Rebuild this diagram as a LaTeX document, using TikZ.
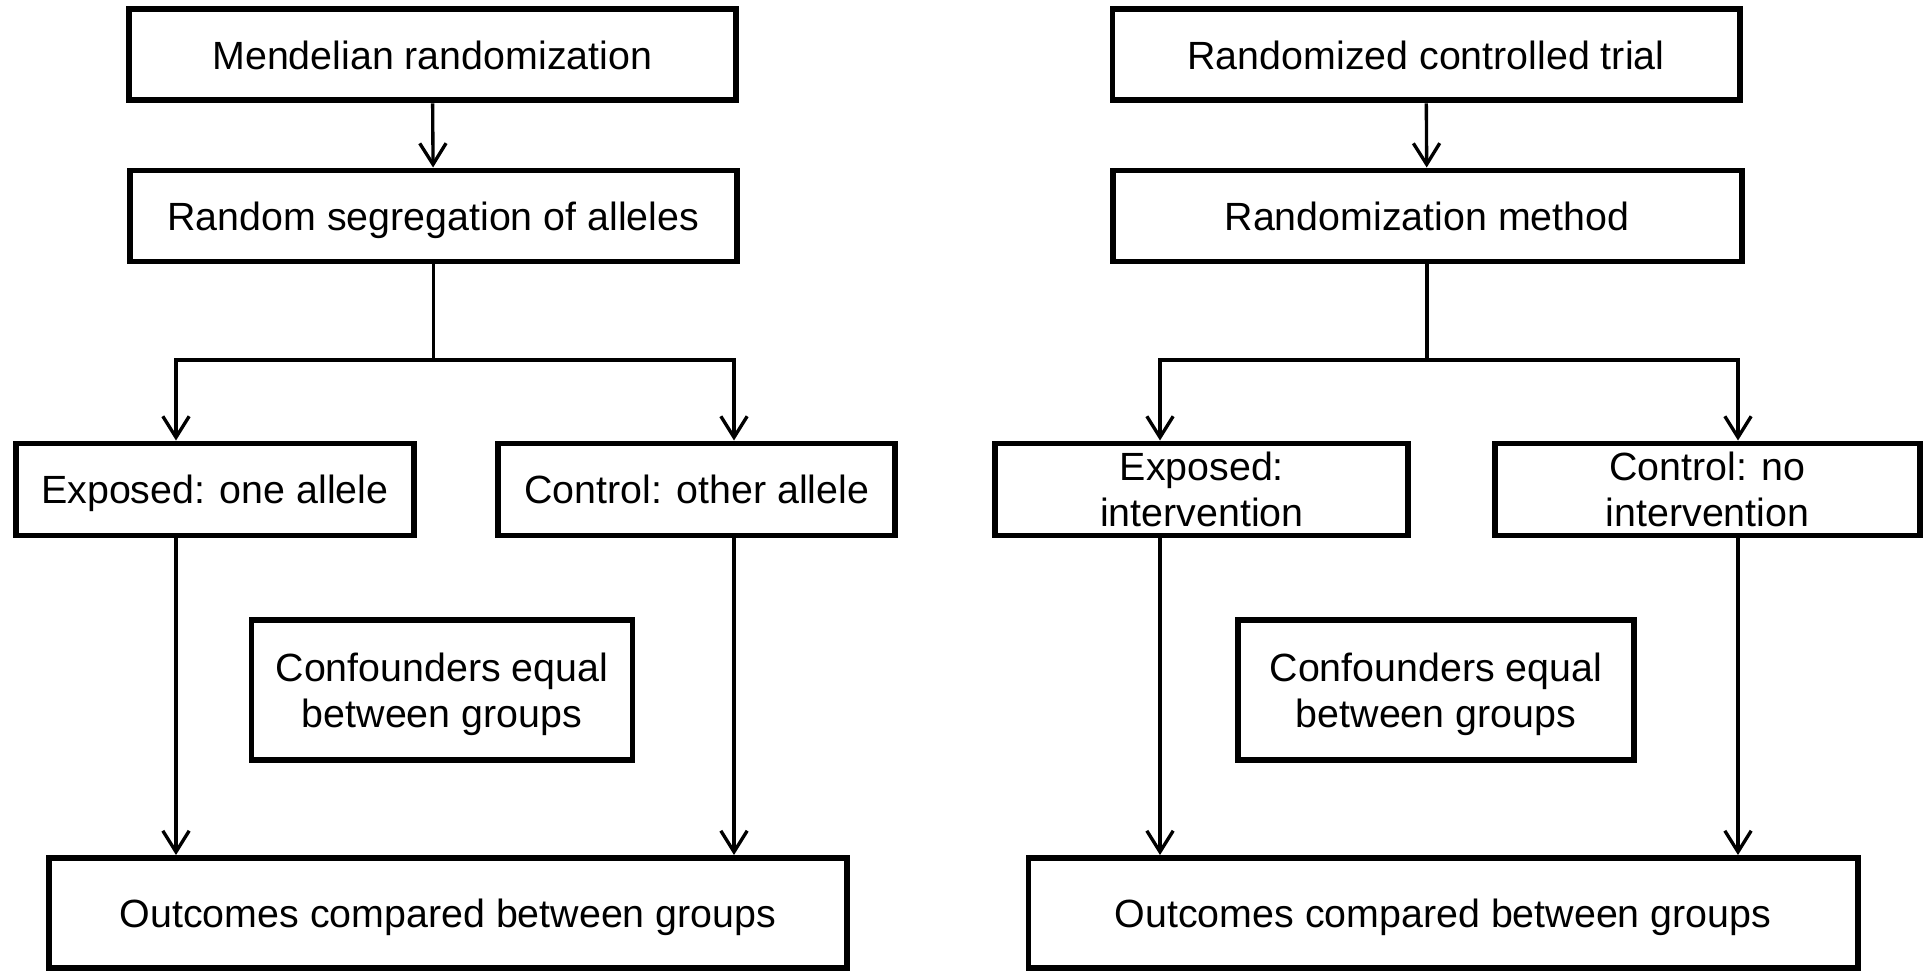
\documentclass[tikz,border=0pt]{standalone}
\usepackage{fontspec}
\setmainfont{Liberation Sans}
\usepackage{tikz}
\usetikzlibrary{arrows.meta}
\tikzstyle{b}=[rectangle,draw=black,line width=1.7pt,inner sep=0pt,align=center,text depth=0pt,font=\fontsize{11.2pt}{13.2pt}\selectfont]
\tikzstyle{b top}=[b,minimum height=0.91cm]
\tikzstyle{b arm}=[b,minimum height=0.92cm]
\tikzstyle{b conf}=[b,minimum height=1.40cm]
\tikzstyle{b out}=[b,minimum height=1.10cm]
\tikzstyle{e}=[line width=0.95pt,arrows={-Straight Barb[length=6pt,width=7.5pt]}]

\begin{document}
\begin{tikzpicture}[x=1cm,y=-1cm]
    \useasboundingbox (0,0) rectangle (19.25,9.71);

    % left: Mendelian randomization
    \node[b top,minimum width=6.07cm]  (mr)    at (4.323,0.55)  {Mendelian randomization};
    \node[b top,minimum width=6.07cm]  (rsa)   at (4.334,2.16)  {Random segregation of alleles};
    \node[b arm,minimum width=3.98cm]  (expA)  at (2.148,4.895) {Exposed: one allele};
    \node[b arm,minimum width=3.97cm]  (ctlA)  at (6.968,4.895) {Control: other allele};
    \node[b conf,minimum width=3.81cm] (confA) at (4.42,6.90)   {Confounders equal\\between groups};
    \node[b out,minimum width=7.98cm]  (outA)  at (4.48,9.13)   {Outcomes compared between groups};

    % right: randomized controlled trial
    \node[b top,minimum width=6.27cm]  (rct)   at (14.26,0.55)  {Randomized controlled trial};
    \node[b top,minimum width=6.29cm]  (rm)    at (14.27,2.16)  {Randomization method};
    \node[b arm,minimum width=4.13cm]  (expB)  at (12.018,4.895) {Exposed:\\intervention};
    \node[b arm,minimum width=4.25cm]  (ctlB)  at (17.075,4.895) {Control: no\\intervention};
    \node[b conf,minimum width=3.96cm] (confB) at (14.36,6.90)  {Confounders equal\\between groups};
    \node[b out,minimum width=8.29cm]  (outB)  at (14.43,9.13)  {Outcomes compared between groups};

    \coordinate (leftA)  at (1.76,3.60);
    \coordinate (rightA) at (7.34,3.60);
    \coordinate (leftB)  at (11.60,3.60);
    \coordinate (rightB) at (17.38,3.60);

    \draw[e] (mr) -- (rsa);
    \draw[e] (rsa.south) |- (leftA) -- (leftA |- expA.north);
    \draw[e] (rsa.south) |- (rightA) -- (rightA |- ctlA.north);
    \draw[e] (leftA |- expA.south) -- (leftA |- outA.north);
    \draw[e] (rightA |- ctlA.south) -- (rightA |- outA.north);

    \draw[e] (rct) -- (rm);
    \draw[e] (rm.south) |- (leftB) -- (leftB |- expB.north);
    \draw[e] (rm.south) |- (rightB) -- (rightB |- ctlB.north);
    \draw[e] (leftB |- expB.south) -- (leftB |- outB.north);
    \draw[e] (rightB |- ctlB.south) -- (rightB |- outB.north);

\end{tikzpicture}
\end{document}
